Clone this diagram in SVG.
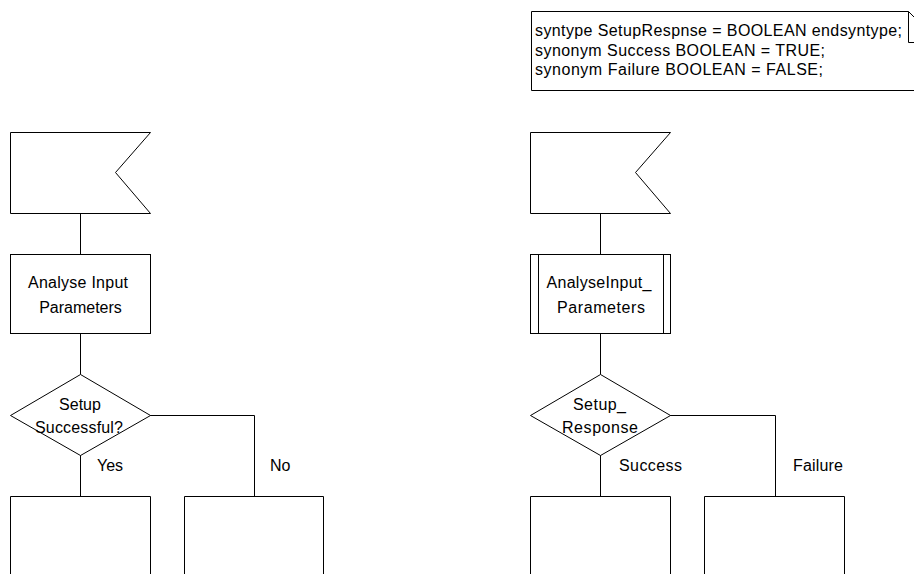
<svg xmlns="http://www.w3.org/2000/svg" width="914" height="574" viewBox="0 0 914 574">
<style>
.s{fill:#fff;stroke:#000;stroke-width:1}
.n{fill:none;stroke:#000;stroke-width:1}
text{font-family:"Liberation Sans",Arial,sans-serif;font-size:16px;fill:#000}
.m{text-anchor:middle}
</style>
<rect x="0" y="0" width="914" height="574" fill="#fff"/>
<g id="connectors">
  <path class="n" d="M80.5 213V254.5M80.5 333.5V374.5M80.5 455V496M150 415.5H254.5V496"/>
  <path class="n" d="M600.5 213V254.5M600.5 333.5V374.5M600.5 455V496M670 415.5H775.5V496"/>
</g>
<g id="textbox">
  <path class="n" d="M531.5 11.5H908.5L939.5 42.5V90.5H531.5Z"/>
  <path class="n" d="M908.5 11.5V42.5H939.5"/>
  <text x="535" y="36" textLength="367" lengthAdjust="spacing">syntype SetupRespnse = BOOLEAN endsyntype;</text>
  <text x="535" y="55.5" textLength="290" lengthAdjust="spacing">synonym Success BOOLEAN = TRUE;</text>
  <text x="535" y="75" textLength="288" lengthAdjust="spacing">synonym Failure BOOLEAN = FALSE;</text>
</g>
<g id="input1">
  <path class="s" d="M10.5 132.5H150.5L115.5 172.5L150.5 213.5H10.5Z"/>
</g>
<g id="task1">
  <rect class="s" x="10.5" y="254.5" width="140" height="79"/>
  <text class="m" x="78" y="288" textLength="100" lengthAdjust="spacing">Analyse Input</text>
  <text class="m" x="80.5" y="312.5">Parameters</text>
</g>
<g id="decision1">
  <path class="s" d="M80.5 374.5L150.5 415.5L80.5 455.5L10.5 415.5Z"/>
  <text class="m" x="80" y="409.5">Setup</text>
  <text class="m" x="79" y="433" textLength="88" lengthAdjust="spacing">Successful?</text>
  <text x="97" y="471">Yes</text>
  <text x="270" y="471">No</text>
</g>
<g id="state1a">
  <path class="n" d="M10.5 580V496.5H150.5V580"/>
</g>
<g id="state1b">
  <path class="n" d="M184.5 580V496.5H323.5V580"/>
</g>
<g id="input2">
  <path class="s" d="M530.5 132.5H670.5L635.5 172.5L670.5 213.5H530.5Z"/>
</g>
<g id="proc2">
  <rect class="s" x="530.5" y="254.5" width="140" height="79"/>
  <path class="n" d="M538.5 254.5V333.5M663.5 254.5V333.5"/>
  <text class="m" x="599" y="288" textLength="105" lengthAdjust="spacing">AnalyseInput_</text>
  <text class="m" x="601" y="312.5" textLength="88" lengthAdjust="spacing">Parameters</text>
</g>
<g id="decision2">
  <path class="s" d="M600.5 374.5L670.5 415.5L600.5 455.5L530.5 415.5Z"/>
  <text class="m" x="599.5" y="409.5" textLength="53" lengthAdjust="spacing">Setup_</text>
  <text class="m" x="600" y="433" textLength="76" lengthAdjust="spacing">Response</text>
  <text x="619" y="471" textLength="63" lengthAdjust="spacing">Success</text>
  <text x="793" y="471" textLength="50" lengthAdjust="spacing">Failure</text>
</g>
<g id="state2a">
  <path class="n" d="M530.5 580V496.5H670.5V580"/>
</g>
<g id="state2b">
  <path class="n" d="M704.5 580V496.5H844.5V580"/>
</g>
</svg>
